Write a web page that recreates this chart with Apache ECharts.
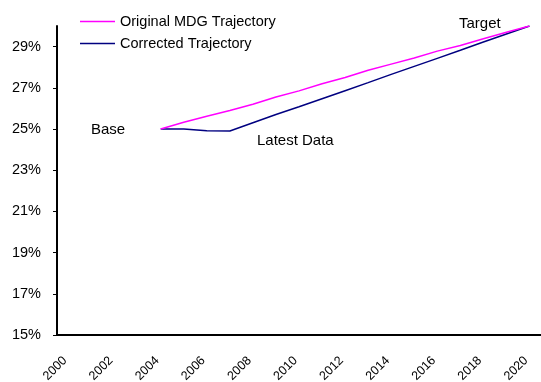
<!DOCTYPE html>
<html>
<head>
<meta charset="utf-8">
<script src="https://cdn.jsdelivr.net/npm/echarts@6/dist/echarts.min.js"></script>
<style>
  html, body { margin: 0; padding: 0; background: #fff; }
  #chart { width: 541px; height: 382px; }
</style>
</head>
<body>
<div id="chart"></div>
<script>
// Years on the category axis
const years = ['2000','2001','2002','2003','2004','2005','2006','2007','2008','2009','2010',
               '2011','2012','2013','2014','2015','2016','2017','2018','2019','2020'];

// Share (%) along the original MDG path, from the 2004 base to the 2020 target
const originalTrajectory = [null, null, null, null,
  25.0, 25.33, 25.62, 25.9, 26.2, 26.55, 26.85, 27.2, 27.5, 27.85, 28.15, 28.45, 28.78, 29.05, 29.38, 29.7, 30.0];

// Share (%) after correcting for the latest data
const correctedTrajectory = [null, null, null, null,
  25.0, 25.0, 24.92, 24.9, 25.3, 25.7, 26.08, 26.47, 26.86, 27.25, 27.65, 28.04, 28.43, 28.82, 29.22, 29.61, 30.0];

// Y axis tick labels
const yTicks = [15, 17, 19, 21, 23, 25, 27, 29];

const FONT = '"Liberation Sans", Arial, sans-serif';

const chart = echarts.init(document.getElementById('chart'), null, { renderer: 'canvas' });

chart.setOption({
  animation: false,
  backgroundColor: '#ffffff',
  textStyle: { fontFamily: FONT, color: '#000' },
  grid: { left: 57, right: 0, top: 26, bottom: 47, containLabel: false, outerBoundsMode: 'none' },
  legend: {
    orient: 'vertical',
    left: 80,
    top: 14,
    padding: 0,
    icon: 'rect',
    itemWidth: 35,
    itemHeight: 1.5,
    itemGap: 7,
    textStyle: { fontFamily: FONT, fontSize: 14.5, color: '#000', padding: [0, 0, 0, 0] },
    data: ['Original MDG Trajectory', 'Corrected Trajectory']
  },
  xAxis: {
    type: 'category',
    data: years,
    boundaryGap: true,
    axisLine: { lineStyle: { color: '#000', width: 2 } },
    axisTick: { interval: 0, length: 4, lineStyle: { color: '#000', width: 1 } },
    axisLabel: {
      interval: 1,
      rotate: 45,
      margin: 20,
      padding: [0, 5, 0, 0],
      fontFamily: FONT,
      fontSize: 12.5,
      color: '#000'
    },
    splitLine: { show: false }
  },
  yAxis: {
    type: 'value',
    min: 15,
    max: 30,
    axisLine: { show: true, lineStyle: { color: '#000', width: 2 } },
    axisTick: { show: true, length: 4, customValues: yTicks, lineStyle: { color: '#000', width: 1 } },
    axisLabel: {
      customValues: yTicks,
      formatter: '{value}%',
      margin: 16,
      fontFamily: FONT,
      fontSize: 14.5,
      color: '#000'
    },
    splitLine: { show: false }
  },
  series: [
    {
      name: 'Original MDG Trajectory',
      type: 'line',
      data: originalTrajectory,
      symbol: 'none',
      lineStyle: { color: '#ff00ff', width: 1.5 },
      itemStyle: { color: '#ff00ff' },
      z: 3
    },
    {
      name: 'Corrected Trajectory',
      type: 'line',
      data: correctedTrajectory,
      symbol: 'none',
      lineStyle: { color: '#000080', width: 1.5 },
      itemStyle: { color: '#000080' },
      z: 2
    }
  ],
  graphic: [
    { type: 'text', x: 91, y: 130, style: { text: 'Base', font: '15px ' + FONT, fill: '#000', verticalAlign: 'middle' } },
    { type: 'text', x: 257, y: 141, style: { text: 'Latest Data', font: '15px ' + FONT, fill: '#000', verticalAlign: 'middle' } },
    { type: 'text', x: 459, y: 24, style: { text: 'Target', font: '15px ' + FONT, fill: '#000', verticalAlign: 'middle' } }
  ]
});
</script>
</body>
</html>
